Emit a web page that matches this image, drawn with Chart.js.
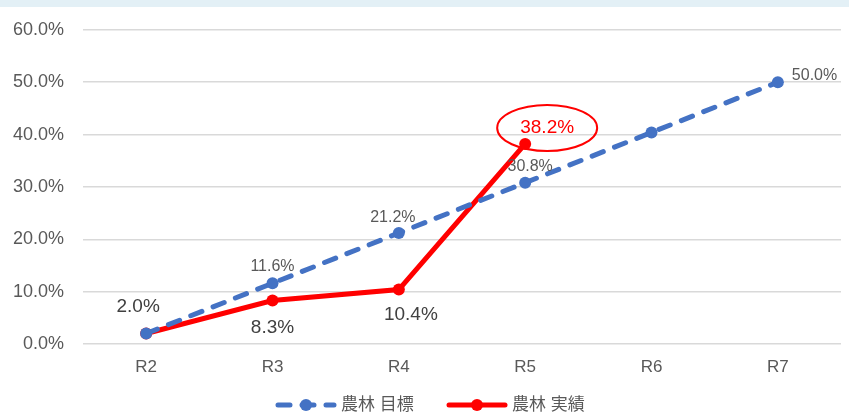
<!DOCTYPE html>
<html lang="ja">
<head>
    <meta charset="UTF-8">
    <title>農林 目標と実績</title>
    <script src="https://cdn.jsdelivr.net/npm/chart.js"></script>
    <style>
        body {
            margin: 0;
            padding: 0;
            background: #ffffff;
            overflow: hidden;
        }
        .topband {
            position: absolute;
            left: 0;
            top: 0;
            width: 849px;
            height: 7px;
            background: #e3f0f6;
        }
        .wrap {
            position: relative;
            width: 849px;
            height: 416px;
        }
    </style>
</head>
<body>
    <div class="wrap">
        <canvas id="chart" width="849" height="416"></canvas>
        <div class="topband"></div>
    </div>

    <script>
        // data
        const categories = ['R2', 'R3', 'R4', 'R5', 'R6', 'R7'];
        const targetValues = [2.0, 11.6, 21.2, 30.8, 40.4, 50.0];
        const actualValues = [2.0, 8.3, 10.4, 38.2, null, null];
        const seriesNames = ['農林 目標', '農林 実績'];
        const yMax = 60;
        const yStep = 10;

        // which data labels are shown, and where they sit relative to the point
        const targetLabelOffsets = [null, [0, -17], [-6, -15], [5, -16], null, [14, -7, 'left']];
        const actualLabelOffsets = [[-8, -27], [0, 27], [12, 25], [22, -16]];

        const FONT = "'Liberation Sans', 'Noto Sans CJK JP', sans-serif";
        const BLUE = '#4472c4';
        const RED = '#ff0000';

        const labelsPlugin = {
            id: 'pointLabels',
            afterDatasetsDraw(chart) {
                const ctx = chart.ctx;
                ctx.save();
                ctx.textBaseline = 'middle';

                const tMeta = chart.getDatasetMeta(0);
                ctx.font = '16px ' + FONT;
                ctx.fillStyle = '#595959';
                targetValues.forEach((v, i) => {
                    const o = targetLabelOffsets[i];
                    if (!o) return;
                    const p = tMeta.data[i];
                    ctx.textAlign = o[2] || 'center';
                    ctx.fillText(v.toFixed(1) + '%', p.x + o[0], p.y + o[1]);
                });

                const aMeta = chart.getDatasetMeta(1);
                ctx.font = '19px ' + FONT;
                ctx.textAlign = 'center';
                actualValues.forEach((v, i) => {
                    if (v === null) return;
                    const o = actualLabelOffsets[i];
                    const p = aMeta.data[i];
                    const x = p.x + o[0];
                    const y = p.y + o[1];
                    // highlight the latest result
                    if (i === 3) {
                        ctx.fillStyle = RED;
                        ctx.strokeStyle = RED;
                        ctx.lineWidth = 2;
                        ctx.beginPath();
                        ctx.ellipse(x, y, 50, 23, 0, 0, Math.PI * 2);
                        ctx.stroke();
                    } else {
                        ctx.fillStyle = '#404040';
                    }
                    ctx.fillText(v.toFixed(1) + '%', x, y);
                });
                ctx.restore();
            }
        };

        const legendPlugin = {
            id: 'lineLegend',
            afterDraw(chart) {
                const ctx = chart.ctx;
                const y = 405;
                const items = [
                    { x: 276, color: BLUE, dash: [12, 12], name: seriesNames[0] },
                    { x: 447, color: RED, dash: [], name: seriesNames[1] }
                ];
                ctx.save();
                items.forEach(it => {
                    ctx.strokeStyle = it.color;
                    ctx.fillStyle = it.color;
                    ctx.lineWidth = 5;
                    ctx.lineCap = 'round';
                    ctx.setLineDash(it.dash);
                    ctx.beginPath();
                    ctx.moveTo(it.x + 2, y);
                    ctx.lineTo(it.x + 58, y);
                    ctx.stroke();
                    ctx.setLineDash([]);
                    ctx.beginPath();
                    ctx.arc(it.x + 30, y, 6, 0, Math.PI * 2);
                    ctx.fill();
                    ctx.font = '17px ' + FONT;
                    ctx.fillStyle = '#595959';
                    ctx.textAlign = 'left';
                    ctx.textBaseline = 'middle';
                    ctx.fillText(it.name, it.x + 65, y);
                });
                ctx.restore();
            }
        };

        new Chart(document.getElementById('chart').getContext('2d'), {
            type: 'line',
            data: {
                labels: categories,
                datasets: [{
                    label: seriesNames[0],
                    data: targetValues,
                    borderColor: BLUE,
                    backgroundColor: BLUE,
                    borderWidth: 5,
                    borderDash: [12, 12],
                    borderCapStyle: 'round',
                    pointRadius: 6,
                    pointBorderWidth: 0,
                    tension: 0
                }, {
                    label: seriesNames[1],
                    data: actualValues,
                    borderColor: RED,
                    backgroundColor: RED,
                    borderWidth: 5,
                    borderCapStyle: 'round',
                    pointRadius: 6,
                    pointBorderWidth: 0,
                    tension: 0
                }]
            },
            options: {
                responsive: false,
                animation: false,
                layout: { padding: { top: 29, right: 8, left: 0, bottom: 0 } },
                plugins: {
                    legend: { display: false },
                    tooltip: { enabled: false }
                },
                scales: {
                    x: {
                        offset: true,
                        grid: { display: false, drawTicks: false },
                        border: { display: false },
                        ticks: {
                            color: '#595959',
                            font: { family: FONT, size: 17 },
                            padding: 13
                        },
                        afterFit(scale) { scale.height = 72; }
                    },
                    y: {
                        min: 0,
                        max: yMax,
                        grid: { color: '#d9d9d9', lineWidth: 1.5, drawTicks: false },
                        border: { display: false },
                        ticks: {
                            stepSize: yStep,
                            color: '#595959',
                            font: { family: FONT, size: 18 },
                            padding: 19,
                            callback: v => v.toFixed(1) + '%'
                        },
                        afterFit(scale) { scale.width = 83; }
                    }
                }
            },
            plugins: [labelsPlugin, legendPlugin]
        });
    </script>
</body>
</html>
